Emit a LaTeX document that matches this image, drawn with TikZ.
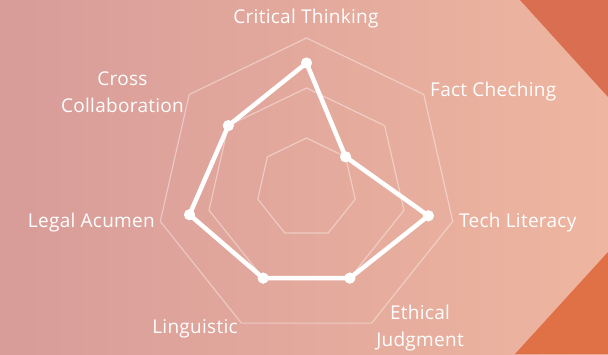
\documentclass[tikz,border=0pt]{standalone}
\usepackage{fontspec}
\setmainfont{Open Sans}[LetterSpace=1.5]
\usepackage{tikz}
\usetikzlibrary{calc}
\definecolor{bgleft}{HTML}{D89C99}
\definecolor{bgright}{HTML}{EEB6A0}
\definecolor{cornertop}{HTML}{DA6E50}
\definecolor{cornerbot}{HTML}{E07046}

\begin{document}
\begin{tikzpicture}[x=1pt,y=-1pt,
    gridline/.style={white,opacity=0.4,line width=1.2pt,line join=miter},
    dataline/.style={white,line width=4.5pt,line join=round},
    dot/.style={circle,fill=white,inner sep=0pt,minimum size=11pt},
    lbl/.style={white,inner sep=0pt,font=\fontsize{19}{27}\selectfont}]
  \shade[left color=bgleft,right color=bgright] (0,0) rectangle (608,354);%background
  \useasboundingbox (0,0) rectangle (608,354);
  \fill[cornertop] (520,0) -- (608,0) -- (608,97) -- cycle;
  \fill[cornerbot] (608,252) -- (608,354) -- (515,354) -- cycle;

  \coordinate (o) at (306.5,188);
  \foreach \r in {50,100,150} {
      \draw[gridline] ($(o)+(-90:\r)$)
        \foreach \k in {1,...,6} { -- ($(o)+(\k*360/7-90:\r)$) } -- cycle; %heptagon
    }

  \foreach \k/\v/\n in {0/2.5/ct,1/1.0/fc,2/2.5/tl,3/2.0/ej,4/2.0/li,5/2.4/la,6/2.0/cc} {
      \pgfmathsetmacro{\rad}{50*\v}
      \node[dot] (\n) at ($(o)+(\k*360/7-90:\rad)$) {};
    }
  \draw[dataline] (ct.center) -- (fc.center) -- (tl.center) -- (ej.center)
    -- (li.center) -- (la.center) -- (cc.center) -- cycle;
  \foreach \n in {ct,fc,tl,ej,li,la,cc} {
      \node[dot] at (\n) {};
    }

  \node[lbl] (ctlabel) at (306,19) {Critical Thinking};
  \node[lbl,anchor=west] (fclabel) at (430,92) {Fact Cheching};
  \node[lbl,anchor=west] (tllabel) at (459,223) {Tech Literacy};
  \node[lbl,align=center] (ejlabel) at (420,328) {Ethical\\Judgment};
  \node[lbl] (lilabel) at (195,329) {Linguistic};
  \node[lbl,anchor=east] (lalabel) at (155,223) {Legal Acumen};
  \node[lbl,align=center] (cclabel) at (122.5,92) {Cross\\Collaboration};
\end{tikzpicture}
\end{document}
